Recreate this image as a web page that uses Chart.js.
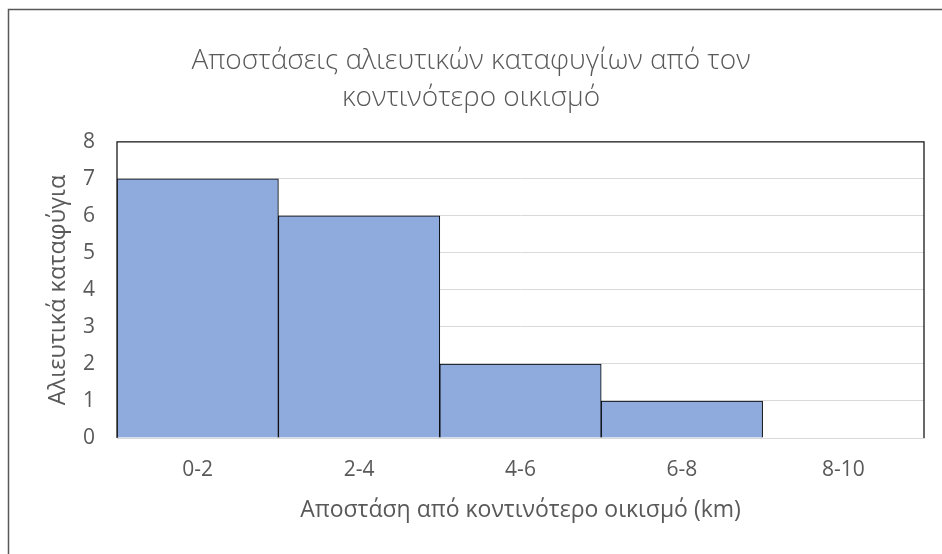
<!DOCTYPE html>
<html>
<head>
<meta charset="utf-8">
<script src="https://cdn.jsdelivr.net/npm/chart.js@4.4.1/dist/chart.umd.min.js"></script>
<style>
  html, body { margin: 0; padding: 0; background: #fff; }
  #wrap { width: 942px; height: 554px; position: relative; }
</style>
</head>
<body>
<div id="wrap"><canvas id="c" width="942" height="554"></canvas></div>
<script>
// Distance bins (km) and number of fishing shelters in each bin
const binLabels = ['0-2', '2-4', '4-6', '6-8', '8-10'];
const shelterCounts = [7, 6, 2, 1, 0];
const yTicks = [0, 1, 2, 3, 4, 5, 6, 7, 8];

const titleLines = ['Αποστάσεις αλιευτικών καταφυγίων από τον', 'κοντινότερο οικισμό'];
const xTitle = 'Αποστάση από κοντινότερο οικισμό (km)';
const yTitle = 'Αλιευτικά καταφύγια';

const FONT = '"Open Sans", "Noto Sans", sans-serif';
const TEXT = '#595959';

// White background plus the chart's outer frame
const frame = {
  id: 'frame',
  beforeDraw(chart) {
    const ctx = chart.ctx;
    ctx.save();
    ctx.fillStyle = '#fff';
    ctx.fillRect(0, 0, chart.width, chart.height);
    ctx.strokeStyle = '#595959';
    ctx.lineWidth = 1.5;
    ctx.beginPath();
    ctx.moveTo(8.5, chart.height + 5);
    ctx.lineTo(8.5, 9.5);
    ctx.lineTo(chart.width + 5, 9.5);
    ctx.stroke();
    ctx.restore();
  },
  afterDatasetsDraw(chart) {
    // plot-area border on the left, top and right sides
    const a = chart.chartArea;
    const ctx = chart.ctx;
    ctx.save();
    ctx.strokeStyle = '#1a1a1a';
    ctx.lineWidth = 1.3;
    ctx.beginPath();
    ctx.moveTo(a.left, a.bottom);
    ctx.lineTo(a.left, a.top);
    ctx.lineTo(a.right, a.top);
    ctx.lineTo(a.right, a.bottom);
    ctx.stroke();
    ctx.restore();
  }
};

new Chart(document.getElementById('c'), {
  type: 'bar',
  data: {
    labels: binLabels,
    datasets: [{
      data: shelterCounts,
      backgroundColor: '#8FAADC',
      borderColor: '#000',
      borderWidth: 1,
      categoryPercentage: 1,
      barPercentage: 1
    }]
  },
  options: {
    responsive: false,
    animation: false,
    layout: { padding: 0 },
    plugins: {
      legend: { display: false },
      tooltip: { enabled: false },
      title: {
        display: true,
        text: titleLines,
        color: TEXT,
        font: { family: FONT, size: 28, weight: 300, lineHeight: 1.32 },
        padding: { top: 43, bottom: 25 }
      }
    },
    scales: {
      x: {
        grid: { display: false, drawTicks: false },
        border: { display: true, color: '#d9d9d9', width: 1 },
        ticks: { color: TEXT, font: { family: FONT, size: 21 }, padding: 19 },
        title: {
          display: true, text: xTitle, color: TEXT,
          font: { family: FONT, size: 23 }, padding: { top: 0, bottom: 30 }
        },
        afterFit(scale) { scale.height = 116; }
      },
      y: {
        min: 0, max: 8,
        afterBuildTicks(scale) { scale.ticks = yTicks.map(v => ({ value: v })); },
        grid: { color: '#d9d9d9', lineWidth: 1, drawTicks: false },
        border: { display: false },
        ticks: { color: TEXT, font: { family: FONT, size: 21 }, padding: 22 },
        title: {
          display: true, text: yTitle, color: TEXT,
          font: { family: FONT, size: 23.5 }, padding: { top: 44, bottom: 0 }
        },
        afterFit(scale) { scale.width = 117; }
      },
      // empty right-hand margin so the plot ends where the frame's inner space does
      margin: {
        type: 'linear',
        position: 'right',
        display: true,
        grid: { display: false, drawTicks: false },
        border: { display: false },
        ticks: { display: false },
        afterFit(scale) { scale.width = 18; }
      }
    }
  },
  plugins: [frame]
});
</script>
</body>
</html>
